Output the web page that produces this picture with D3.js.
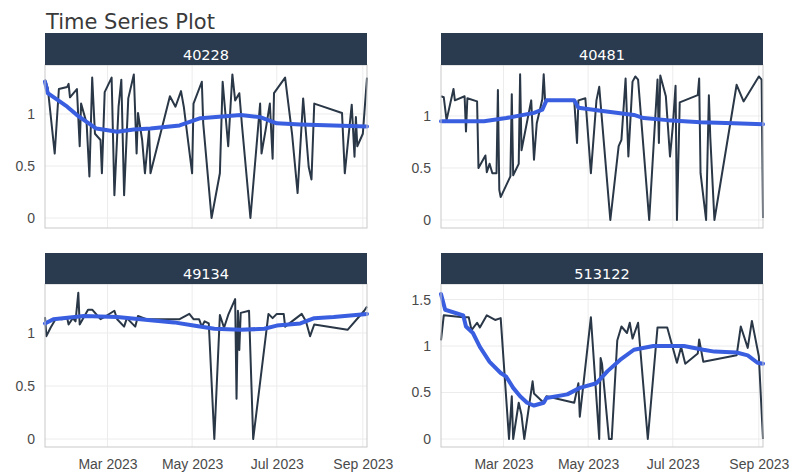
<!DOCTYPE html>
<html>
<head>
<meta charset="utf-8">
<script src="https://cdn.jsdelivr.net/npm/d3@7"></script>
<style>
  body { margin: 0; background: #fff; }
  svg { display: block; font-family: "DejaVu Sans", Verdana, sans-serif; }
  .tick text { fill: #4a4a4a; }
</style>
</head>
<body>
<div id="chart"></div>
<script>
// values, one group per panel

const p40228Dates = ["2023-01-15","2023-01-17","2023-01-22","2023-01-25","2023-01-31","2023-02-01","2023-02-02","2023-02-07","2023-02-09","2023-02-10",
  "2023-02-14","2023-02-16","2023-02-18","2023-02-20","2023-02-24","2023-02-25","2023-02-27","2023-03-04","2023-03-06","2023-03-09",
  "2023-03-11","2023-03-13","2023-03-16","2023-03-20","2023-03-22","2023-03-23","2023-03-26","2023-03-28","2023-03-31","2023-04-01",
  "2023-04-15","2023-04-19","2023-04-23","2023-04-25","2023-05-01","2023-05-02","2023-05-08","2023-05-09","2023-05-15","2023-05-21",
  "2023-05-23","2023-05-27","2023-05-30","2023-06-01","2023-06-04","2023-06-06","2023-06-12","2023-06-19","2023-06-20","2023-06-23",
  "2023-06-26","2023-06-28","2023-06-29","2023-07-07","2023-07-12","2023-07-16","2023-07-20","2023-07-24","2023-07-26","2023-07-28",
  "2023-08-17","2023-08-19","2023-08-24","2023-08-26","2023-08-27","2023-08-28","2023-09-01","2023-09-04"];
const p40228Values = [1.33,1.25,0.62,1.24,1.26,1.29,1.16,1.24,0.69,1.10,
  0.91,0.40,1.35,0.81,0.75,0.43,1.21,1.35,0.22,1.07,
  1.33,0.22,1.15,1.38,0.62,1.01,0.75,0.43,0.85,0.43,
  1.17,1.07,1.22,1.07,0.43,1.10,1.31,0.91,0.00,0.43,
  1.31,0.69,1.38,1.13,1.20,0.88,0.00,1.10,0.62,0.85,
  1.10,0.57,1.20,1.35,0.81,0.24,1.15,0.49,0.37,1.10,
  1.01,0.43,1.09,0.59,0.97,0.69,0.81,1.35];
const p40228TrendDates = ["2023-01-15","2023-01-17","2023-01-31","2023-02-07","2023-02-21","2023-03-08","2023-03-20","2023-04-01",
  "2023-04-22","2023-05-07","2023-06-05","2023-06-19","2023-07-01","2023-07-18","2023-08-11","2023-09-04"];
const p40228TrendValues = [1.31,1.20,1.07,0.99,0.86,0.83,0.85,0.86,0.89,0.96,0.99,0.97,0.91,0.90,0.89,0.88];

const p40481Dates = ["2023-01-15","2023-01-17","2023-01-19","2023-01-24","2023-01-25","2023-02-01","2023-02-02","2023-02-03","2023-02-10","2023-02-11",
  "2023-02-16","2023-02-17","2023-02-19","2023-02-21","2023-02-24","2023-02-25","2023-02-26","2023-02-27","2023-03-06","2023-03-07",
  "2023-03-08","2023-03-12","2023-03-13","2023-03-14","2023-03-21","2023-03-23","2023-03-25","2023-03-29","2023-03-30","2023-03-31",
  "2023-04-21","2023-04-23","2023-04-24","2023-04-29","2023-05-03","2023-05-07","2023-05-09","2023-05-17","2023-05-23","2023-05-25",
  "2023-05-28","2023-05-30","2023-06-02","2023-06-04","2023-06-06","2023-06-14","2023-06-20","2023-06-21","2023-06-22","2023-06-26",
  "2023-06-29","2023-07-01","2023-07-03","2023-07-04","2023-07-06","2023-07-19","2023-07-20","2023-07-21","2023-07-25","2023-07-27",
  "2023-07-28","2023-07-31","2023-08-16","2023-08-21","2023-09-01","2023-09-03","2023-09-04"];
const p40481Values = [1.19,1.18,0.96,1.26,1.15,1.19,0.85,1.17,1.14,0.50,
  0.62,0.46,0.54,0.45,0.45,1.25,0.29,0.22,0.42,1.21,
  0.43,0.54,1.40,0.67,1.15,0.58,0.93,1.16,1.40,1.15,
  1.15,0.74,1.15,1.17,0.45,1.15,1.28,0.00,0.71,0.77,
  1.36,0.61,1.33,1.38,1.35,0.00,1.35,0.74,1.39,1.19,
  0.61,0.90,1.29,0.00,1.13,1.20,1.36,0.45,0.00,1.20,
  0.80,0.00,1.30,1.14,1.38,1.35,0.02];
const p40481TrendDates = ["2023-01-15","2023-02-15","2023-03-03","2023-03-23","2023-03-29","2023-04-01","2023-04-21","2023-04-24",
  "2023-05-10","2023-06-03","2023-06-10","2023-06-27","2023-07-21","2023-08-14","2023-09-04"];
const p40481TrendValues = [0.95,0.95,0.98,1.03,1.06,1.15,1.15,1.08,1.05,1.01,0.98,0.96,0.94,0.93,0.92];

const p49134Dates = ["2023-01-15","2023-01-16","2023-01-19","2023-01-23","2023-01-27","2023-01-31","2023-02-01","2023-02-04","2023-02-06","2023-02-08",
  "2023-02-09","2023-02-15","2023-02-18","2023-02-24","2023-02-28","2023-03-06","2023-03-08","2023-03-13","2023-03-15","2023-03-21",
  "2023-03-23","2023-03-29","2023-04-22","2023-04-29","2023-05-02","2023-05-06","2023-05-08","2023-05-10","2023-05-13","2023-05-17",
  "2023-05-21","2023-05-24","2023-05-27","2023-06-01","2023-06-02","2023-06-03","2023-06-04","2023-06-05","2023-06-11","2023-06-14",
  "2023-06-25","2023-06-28","2023-07-01","2023-07-06","2023-07-07","2023-07-19","2023-07-22","2023-07-25","2023-07-28","2023-08-21",
  "2023-09-02","2023-09-04"];
const p49134Values = [1.15,0.97,1.05,1.14,1.13,1.14,1.08,1.14,1.11,1.38,
  1.08,1.22,1.22,1.13,1.16,1.21,1.13,1.06,1.14,1.06,
  1.16,1.13,1.13,1.18,1.13,1.13,1.06,1.11,1.09,0.00,
  1.17,1.05,1.17,1.32,0.38,1.21,0.84,1.19,1.21,0.00,
  1.18,1.14,1.18,1.18,1.06,1.18,1.11,0.97,1.08,1.03,
  1.21,1.25];
const p49134TrendDates = ["2023-01-15","2023-01-21","2023-02-12","2023-03-08","2023-04-01","2023-04-18","2023-05-02","2023-05-17",
  "2023-06-05","2023-06-22","2023-07-01","2023-07-18","2023-07-28","2023-08-11","2023-09-04"];
const p49134TrendValues = [1.09,1.13,1.16,1.15,1.12,1.10,1.07,1.04,1.03,1.04,1.07,1.09,1.14,1.15,1.18];

const p513122Dates = ["2023-01-15","2023-01-17","2023-01-31","2023-02-04","2023-02-06","2023-02-10","2023-02-12","2023-02-17","2023-02-23","2023-02-27",
  "2023-03-05","2023-03-07","2023-03-08","2023-03-12","2023-03-14","2023-03-16","2023-03-22","2023-03-23","2023-03-30","2023-04-01",
  "2023-04-21","2023-04-24","2023-04-25","2023-05-03","2023-05-09","2023-05-10","2023-05-11","2023-05-16","2023-05-18","2023-05-22",
  "2023-05-25","2023-05-29","2023-05-31","2023-06-02","2023-06-06","2023-06-13","2023-06-20","2023-06-27","2023-07-04","2023-07-07",
  "2023-07-10","2023-07-19","2023-07-20","2023-07-23","2023-08-16","2023-08-19","2023-08-24","2023-08-27","2023-09-01","2023-09-04"];
const p513122Values = [1.06,1.33,1.31,1.31,1.17,1.25,1.20,1.33,1.28,1.30,
  0.00,0.46,0.00,0.39,0.26,0.00,0.62,0.49,0.39,0.46,
  0.39,0.60,0.24,1.31,0.00,0.87,0.81,0.00,0.00,1.06,
  1.21,1.14,1.25,1.08,1.25,0.00,1.20,1.20,0.82,0.99,
  0.81,0.92,1.07,0.83,0.90,1.21,0.98,1.27,0.89,0.00];
const p513122TrendDates = ["2023-01-15","2023-01-18","2023-01-31","2023-02-02","2023-02-07","2023-02-12","2023-02-19","2023-02-27",
  "2023-03-03","2023-03-08","2023-03-13","2023-03-18","2023-03-23","2023-03-30","2023-04-01","2023-04-16","2023-04-25","2023-05-07",
  "2023-05-15","2023-05-24","2023-06-03","2023-06-17","2023-07-09","2023-07-23","2023-07-31","2023-08-16","2023-08-24","2023-08-31","2023-09-04"];
const p513122TrendValues = [1.56,1.39,1.33,1.21,1.14,0.99,0.83,0.71,0.67,0.55,0.46,0.39,0.36,0.39,0.44,0.48,0.55,0.60,
  0.73,0.85,0.96,1.00,1.00,0.96,0.94,0.93,0.90,0.82,0.81];

const panelNames = ["40228", "40481", "49134", "513122"];
const yDomains = [[-0.096, 1.471], [-0.077, 1.49], [-0.075, 1.462], [-0.086, 1.667]];
const yTicks = [[0, 0.5, 1], [0, 0.5, 1], [0, 0.5, 1], [0, 0.5, 1, 1.5]];
const xTickDates = ["2023-03-01", "2023-05-01", "2023-07-01", "2023-09-01"];

const parse = d3.timeParse("%Y-%m-%d");
const zip = (ds, vs) => ds.map((d, i) => ({ date: parse(d), value: vs[i] }));

const panels = [
  { name: panelNames[0], raw: zip(p40228Dates, p40228Values), trend: zip(p40228TrendDates, p40228TrendValues) },
  { name: panelNames[1], raw: zip(p40481Dates, p40481Values), trend: zip(p40481TrendDates, p40481TrendValues) },
  { name: panelNames[2], raw: zip(p49134Dates, p49134Values), trend: zip(p49134TrendDates, p49134TrendValues) },
  { name: panelNames[3], raw: zip(p513122Dates, p513122Values), trend: zip(p513122TrendDates, p513122TrendValues) },
];

const width = 797, height = 474;
const cols = [{ left: 45, right: 367 }, { left: 441, right: 763 }];
const rows = [{ head: 33, top: 65, bottom: 228 }, { head: 253, top: 284, bottom: 447 }];

const svg = d3.select('#chart').append('svg')
  .attr('width', width).attr('height', height);

svg.append('text')
  .attr('x', 46).attr('y', 29)
  .style('font-size', '21px').style('fill', '#3a3a3a')
  .text('Time Series Plot');

const allDates = panels.flatMap(p => p.raw.map(d => d.date));
const xDomain = d3.extent(allDates);

panels.forEach((p, i) => {
  const col = cols[i % 2], row = rows[Math.floor(i / 2)];
  const w = col.right - col.left, h = row.bottom - row.top;

  const x = d3.scaleTime().domain(xDomain).range([0, w]);
  const y = d3.scaleLinear().domain(yDomains[i]).range([h, 0]);

  const g = svg.append('g').attr('transform', `translate(${col.left},${row.top})`);

  // header strip
  svg.append('rect')
    .attr('x', col.left).attr('y', row.head)
    .attr('width', w).attr('height', row.top - row.head)
    .style('fill', '#2b3b4f');
  svg.append('text')
    .attr('x', col.left + w / 2).attr('y', row.top - 5)
    .attr('text-anchor', 'middle')
    .style('font-size', '14.5px').style('fill', '#fff')
    .text(p.name);

  // grid
  g.append('g').selectAll('line.h').data(yTicks[i]).join('line')
    .attr('x1', 0).attr('x2', w)
    .attr('y1', d => y(d)).attr('y2', d => y(d))
    .style('stroke', '#ececec');
  g.append('g').selectAll('line.v').data(xTickDates.map(parse)).join('line')
    .attr('y1', 0).attr('y2', h)
    .attr('x1', d => x(d)).attr('x2', d => x(d))
    .style('stroke', '#ececec');

  // y axis
  const yAxis = d3.axisLeft(y).tickValues(yTicks[i]).tickFormat(d3.format('~g')).tickSize(0).tickPadding(10);
  const yg = g.append('g').call(yAxis);
  yg.select('.domain').remove();
  yg.selectAll('text').style('font-size', '14px');

  // x axis only under bottom row
  if (i >= 2) {
    const xAxis = d3.axisBottom(x).tickValues(xTickDates.map(parse))
      .tickFormat(d3.timeFormat('%b %Y')).tickSize(0).tickPadding(12);
    const xg = g.append('g').attr('transform', `translate(0,${h})`).call(xAxis);
    xg.select('.domain').remove();
    xg.selectAll('text').style('font-size', '14px');
  }

  const line = d3.line().x(d => x(d.date)).y(d => y(d.value));

  g.append('path').datum(p.raw)
    .attr('d', line)
    .style('fill', 'none').style('stroke', '#2a3747').style('stroke-width', 2)
    .style('stroke-linejoin', 'round');

  g.append('path').datum(p.trend)
    .attr('d', line)
    .style('fill', 'none').style('stroke', '#3a5ee0').style('stroke-width', 4)
    .style('stroke-linejoin', 'round').style('stroke-linecap', 'round');

  // frame
  g.append('rect').attr('width', w).attr('height', h)
    .style('fill', 'none').style('stroke', '#c9c9c9');
});
</script>
</body>
</html>
